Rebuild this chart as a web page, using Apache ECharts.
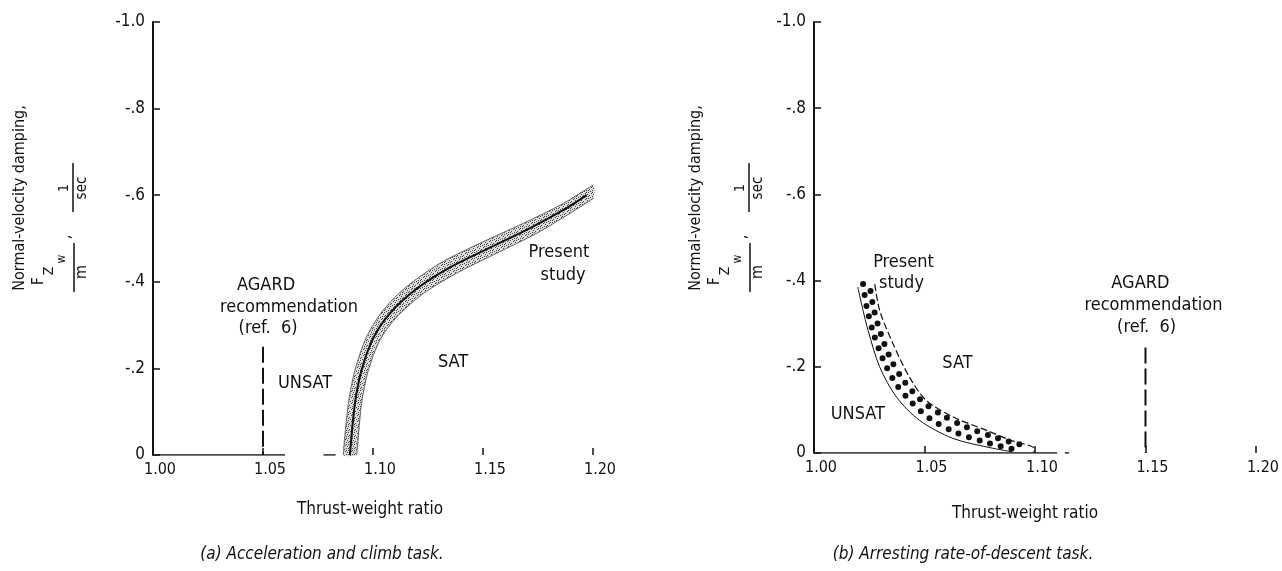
<!DOCTYPE html>
<html>
<head>
<meta charset="utf-8">
<script src="https://cdn.jsdelivr.net/npm/echarts@6/dist/echarts.min.js"></script>
<style>
  html, body { margin: 0; padding: 0; background: #fff; }
  #chart { width: 1282px; height: 571px; }
</style>
</head>
<body>
<div id="chart"></div>
<script>
// tick labels
var xTickLabels = {'1': '1.00', '1.05': '1.05', '1.1': '1.10', '1.15': '1.15', '1.2': '1.20'};
var yTickLabels = {'-1': '-1.0', '-0.8': '-.8', '-0.6': '-.6', '-0.4': '-.4', '-0.2': '-.2', '0': '0'};

// (a) acceleration and climb task - present study band
var leftUpper = [[1.0865,0],[1.0888,-0.119],[1.0918,-0.196],[1.0971,-0.273],[1.1047,-0.335],[1.1153,-0.389],[1.1305,-0.443],[1.1486,-0.489],[1.1683,-0.535],[1.1865,-0.581],[1.2002,-0.624]];
var leftLower = [[1.0926,0],[1.0948,-0.119],[1.0979,-0.196],[1.1032,-0.266],[1.1108,-0.319],[1.1229,-0.373],[1.1380,-0.420],[1.1562,-0.466],[1.1744,-0.512],[1.1895,-0.558],[1.2002,-0.593]];
var leftCenter = [[1.0895,0],[1.0918,-0.119],[1.0948,-0.196],[1.1001,-0.270],[1.1077,-0.327],[1.1191,-0.381],[1.1342,-0.431],[1.1524,-0.477],[1.1714,-0.524],[1.1880,-0.570],[1.1971,-0.600]];
var leftAgard = [[1.05,-0.25],[1.05,0]];
var leftAxisA = [[1.00,0],[1.06,0]];
var leftAxisB = [[1.0775,0],[1.083,0]];

// (b) arresting rate-of-descent task
var rightLower = [[1.0198,-0.385],[1.0220,-0.335],[1.0245,-0.284],[1.0297,-0.200],[1.0373,-0.130],[1.0477,-0.076],[1.0628,-0.034],[1.0809,-0.011],[1.0897,-0.003]];
var rightUpper = [[1.0275,-0.392],[1.0297,-0.331],[1.0357,-0.254],[1.0432,-0.176],[1.0508,-0.122],[1.0628,-0.084],[1.0778,-0.053],[1.0898,-0.028],[1.0995,-0.011],[1.0995,-0.002]];
var rightDotsA = [[1.0222,-0.392],[1.0238,-0.340],[1.0268,-0.280],[1.0310,-0.220],[1.0365,-0.165],[1.0440,-0.118],[1.0530,-0.078],[1.0640,-0.048],[1.0770,-0.026],[1.0900,-0.009]];
var rightDotsB = [[1.0252,-0.388],[1.0270,-0.335],[1.0305,-0.272],[1.0350,-0.215],[1.0410,-0.165],[1.0485,-0.122],[1.0580,-0.088],[1.0690,-0.060],[1.0820,-0.036],[1.0960,-0.016]];
var rightAgard = [[1.15,-0.245],[1.15,0]];
var rightAxisA = [[1.00,0],[1.11,0]];
var rightAxisB = [[1.1135,0],[1.1155,0]];

// text inside the plots [x, y, text]
var leftNotes = [[1.0514,-0.393,'AGARD'],[1.0618,-0.342,'recommendation'],[1.0523,-0.293,'(ref.  6)'],[1.0691,-0.166,'UNSAT'],[1.1364,-0.215,'SAT'],[1.1845,-0.467,'Present'],[1.1864,-0.416,'study']];
var rightNotes = [[1.0405,-0.442,'Present'],[1.0396,-0.393,'study'],[1.0649,-0.208,'SAT'],[1.0198,-0.090,'UNSAT'],[1.1477,-0.393,'AGARD'],[1.1536,-0.342,'recommendation'],[1.1505,-0.291,'(ref.  6)']];

var FONT = "'DejaVu Sans Condensed', 'Liberation Sans Narrow', 'DejaVu Sans', sans-serif";
var INK = '#111';

var chart = echarts.init(document.getElementById('chart'));

//灰色点状填充
function stipple() {
    var c = document.createElement('canvas');
    c.width = 6; c.height = 6;
    var g = c.getContext('2d');
    g.fillStyle = '#dcdcdc';
    g.fillRect(0, 0, 6, 6);
    g.fillStyle = '#444';
    [[0,0],[3,1],[1,3],[4,4],[5,2],[2,5],[0,4],[4,0]].forEach(function (p) { g.fillRect(p[0], p[1], 1, 1); });
    return c;
}
var stipplePattern = {image: stipple(), repeat: 'repeat'};

function xAxisOf(i) {
    return {
        gridIndex: i, type: 'value', min: 1.0, max: 1.2, interval: 0.05,
        axisLine: {show: false},
        axisTick: {show: true, inside: true, length: 7, lineStyle: {color: INK, width: 1.5}},
        splitLine: {show: false},
        axisLabel: {
            fontFamily: FONT, fontSize: 16, color: INK, margin: 7, padding: [0, 0, 0, 14],
            formatter: function (v) { return xTickLabels[String(+v.toFixed(2))] || ''; }
        }
    };
}
function yAxisOf(i) {
    return {
        gridIndex: i, type: 'value', min: -1, max: 0, interval: 0.2, inverse: true,
        axisLine: {show: true, onZero: false, lineStyle: {color: INK, width: 2}},
        axisTick: {show: true, inside: true, length: 7, lineStyle: {color: INK, width: 1.5}},
        splitLine: {show: false},
        axisLabel: {
            fontFamily: FONT, fontSize: 17, color: INK, margin: 8,
            formatter: function (v) { return yTickLabels[String(+v.toFixed(1))] || ''; }
        }
    };
}

function line(i, data, style, extra) {
    var s = {
        type: 'line', xAxisIndex: i, yAxisIndex: i, data: data, symbol: 'none',
        silent: true, animation: false, lineStyle: style
    };
    for (var k in extra) s[k] = extra[k];
    return s;
}

function band(i, upper, lower, fill) {
    return {
        type: 'custom', xAxisIndex: i, yAxisIndex: i, data: [0], silent: true, animation: false, z: 1,
        renderItem: function (params, api) {
            var pts = upper.concat(lower.slice().reverse()).map(function (p) { return api.coord(p); });
            return {type: 'polygon', shape: {points: pts, smooth: 0.15}, style: {fill: fill, stroke: null}};
        }
    };
}

function notes(i, list) {
    return {
        type: 'scatter', xAxisIndex: i, yAxisIndex: i, symbolSize: 0, silent: true, animation: false,
        itemStyle: {opacity: 1},
        data: list.map(function (n) {
            return {value: [n[0], n[1]], label: {show: true, position: 'inside', formatter: n[2],
                color: INK, opacity: 1}};
        }),
        label: {fontFamily: FONT, fontSize: 18, color: INK}
    };
}

function yTitle(dx) {
    var t = function (x, y, s, size) {
        return {type: 'text', x: x + dx, y: y, rotation: Math.PI / 2,
            style: {text: s, fontFamily: FONT, fontSize: size, fill: INK, align: 'center', verticalAlign: 'middle'}};
    };
    var bar = function (x, y1, y2) {
        return {type: 'line', shape: {x1: x + dx, y1: y1, x2: x + dx, y2: y2}, style: {stroke: INK, lineWidth: 1.5}};
    };
    return [
        t(20, 198, 'Normal-velocity damping,', 16),
        t(39, 281, 'F', 15),
        t(49, 271, 'Z', 14),
        t(62, 259, 'w', 12),
        bar(74, 243, 292),
        t(82, 272, 'm', 16),
        t(66, 237, ',', 16),
        t(64, 188, '1', 14),
        bar(73, 163, 212),
        t(82, 188, 'sec', 15)
    ];
}

function caption(x, y, s, italic) {
    return {type: 'text', x: x, y: y,
        style: {text: s, fontFamily: FONT, fontSize: 17, fontStyle: italic ? 'italic' : 'normal',
            fill: INK, align: 'center', verticalAlign: 'middle'}};
}

var option = {
    backgroundColor: '#fff',
    animation: false,
    grid: [
        {left: 153, width: 440, top: 22, height: 433},
        {left: 814, width: 443, top: 22, height: 431}
    ],
    xAxis: [xAxisOf(0), xAxisOf(1)],
    yAxis: [yAxisOf(0), yAxisOf(1)],
    series: [
        // (a)
        band(0, leftUpper, leftLower, stipplePattern),
        line(0, leftUpper, {color: '#666', width: 1}, {smooth: 0.3}),
        line(0, leftLower, {color: '#666', width: 1}, {smooth: 0.3}),
        line(0, leftCenter, {color: INK, width: 2}, {smooth: 0.3}),
        line(0, leftAgard, {color: INK, width: 2, type: [16, 5]}),
        line(0, leftAxisA, {color: INK, width: 1.5}),
        line(0, leftAxisB, {color: INK, width: 1.5}),
        notes(0, leftNotes),
        // (b)
        line(1, rightLower, {color: INK, width: 1}, {smooth: 0.3}),
        line(1, rightUpper, {color: INK, width: 1.2, type: [7, 3]}, {smooth: 0.3}),
        line(1, rightDotsA, {color: INK, width: 6, type: [0, 11], cap: 'round'}, {smooth: 0.3}),
        line(1, rightDotsB, {color: INK, width: 6, type: [0, 11], dashOffset: 5.5, cap: 'round'}, {smooth: 0.3}),
        line(1, rightAgard, {color: INK, width: 2, type: [16, 5]}),
        line(1, rightAxisA, {color: INK, width: 1.5}),
        line(1, rightAxisB, {color: INK, width: 1.5}),
        notes(1, rightNotes)
    ],
    graphic: yTitle(0).concat(yTitle(676)).concat([
        caption(370, 510, 'Thrust-weight ratio', false),
        caption(322, 555, '(a) Acceleration and climb task.', true),
        caption(1025, 514, 'Thrust-weight ratio', false),
        caption(963, 555, '(b) Arresting rate-of-descent task.', true)
    ])
};

chart.setOption(option);
</script>
</body>
</html>
